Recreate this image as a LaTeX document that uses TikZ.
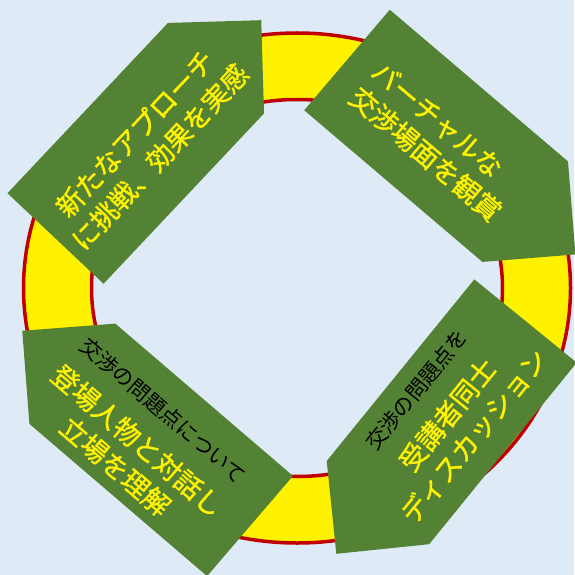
\documentclass[tikz,border=0pt]{standalone}
\usepackage{fontspec}
\newfontfamily\jpfont[FakeBold=1.2]{Noto Sans CJK JP}
\newfontfamily\jpplain{Noto Sans CJK JP}
\usetikzlibrary{positioning}

\definecolor{bgblue}{HTML}{DEEBF7}
\definecolor{leafgreen}{HTML}{548235}
\definecolor{ringred}{HTML}{C00000}

\newcommand{\topic}[1]{{\jpplain\color{black}\fontsize{21}{26}\selectfont #1}}

\tikzset{
	tag/.style={fill=leafgreen},
	caption/.style={font=\jpfont\fontsize{27}{34}\selectfont, text=yellow, align=center, inner sep=0pt, transform shape}
}

\begin{document}
\begin{tikzpicture}[x=1pt,y=1pt]
	\fill[bgblue] (0,0) rectangle (574,-575);
	\useasboundingbox (0,0) rectangle (574,-575);
	% ring
	\draw[ringred, line width=3.5pt, fill=yellow, even odd rule] (297,-288) ellipse [x radius=273.5, y radius=255] (297,-288) ellipse [x radius=205.5, y radius=188.5];
	% arrows
	\foreach \bx/\by/\ang in {55.5/-238.5/46.7, 347/-60/-40.4, 250/-526/139.4, 525.5/-321/230.9}
		\fill[tag, shift={(\bx,\by)}, rotate=\ang] (0,-66) -- (234,-66) -- (300,0) -- (234,66) -- (0,66) -- cycle;
	% texts
	\begin{scope}[shift={(55.5,-238.5)}, rotate=46.7]
		\node[caption] (challenge) at (131,-3) {新たなアプローチ\\に挑戦、効果を実感};
	\end{scope}
	\begin{scope}[shift={(347,-60)}, rotate=-40.4]
		\node[caption, align=left] (viewing) at (121,-4) {バーチャルな\\交渉場面を観賞};
	\end{scope}
	\begin{scope}[shift={(250,-526)}, rotate=139.4]
		\node[caption, rotate=180] (dialogue) at (141,7) {\topic{交渉の問題点について}\\[8pt]登場人物と対話し\\立場を理解};
	\end{scope}
	\begin{scope}[shift={(525.5,-321)}, rotate=230.9]
		\node[caption, rotate=180] (discussion) at (122,-3) {\topic{交渉の問題点を}\\[8pt]受講者同士\\ディスカッション};
	\end{scope}
\end{tikzpicture}
\end{document}
